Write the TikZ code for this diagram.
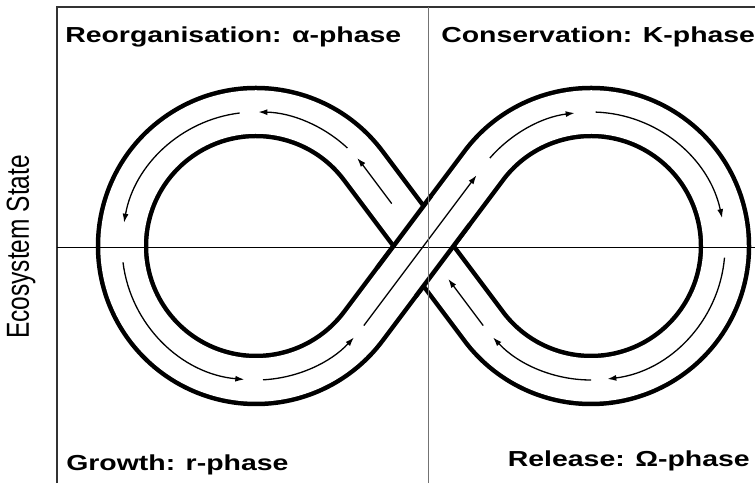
\documentclass[tikz,border=0pt]{standalone}
\usepackage{fontspec}
\setmainfont{Liberation Sans}
\usetikzlibrary{arrows.meta,calc}

\begin{document}
\begin{tikzpicture}[x=1pt,y=1pt,
  band/.style={draw=black, line width=4.5pt, double=white, double distance=43.5pt},
  edge/.style={line width=4.5pt},
  flow/.style={line width=1.3pt, -{Latex[length=9pt,width=6pt]}},
  phase/.style={font=\fontsize{21.7}{24}\selectfont\bfseries, inner sep=0pt, xscale=1.31}]
\useasboundingbox (0,0) rectangle (755,483);

% loop centres, crossing and tangent points
\coordinate (L) at (256,237);
\coordinate (R) at (591,237);
\coordinate (C) at (423.5,237);
\coordinate (Ltop) at (363.2,317.4);
\coordinate (Lbot) at (363.2,156.6);
\coordinate (Rtop) at (483.8,317.4);
\coordinate (Rbot) at (483.8,156.6);

% the figure of eight band
\draw[band] (C) -- (Rtop) arc[start angle=143.13, end angle=-143.13, radius=134]
  -- (Ltop) arc[start angle=36.87, end angle=323.13, radius=134] -- (C);
% rising part passes over the falling one
\coordinate (Ca) at ($(C)!0.45!(Lbot)$);
\coordinate (Cb) at ($(C)!0.45!(Rtop)$);
\draw[white, line width=44pt] (Ca) -- (Cb);
\draw[edge] ($(Ca)+(-19.2,14.4)$) -- ($(Cb)+(-19.2,14.4)$);
\draw[edge] ($(Ca)+(19.2,-14.4)$) -- ($(Cb)+(19.2,-14.4)$);

% flow arrows, left loop
\draw[flow] ($(C)!0.527!(Ltop)$) -- (Ltop) arc[start angle=36.87, end angle=41, radius=134];
\draw[flow] ($(L)+(47:134)$) arc[start angle=47, end angle=89, radius=134];
\draw[flow] ($(L)+(97:134)$) arc[start angle=97, end angle=170, radius=134];
\draw[flow] ($(L)+(187:134)$) arc[start angle=187, end angle=265, radius=134];
\draw[flow] ($(L)+(273:134)$) arc[start angle=273, end angle=317, radius=134];
\draw[flow] ($(Lbot)!0.005!(Rtop)$) -- ($(Lbot)!0.94!(Rtop)$);

% flow arrows, right loop
\draw[flow] ($(R)+(139:134)$) arc[start angle=139, end angle=97, radius=134];
\draw[flow] ($(R)+(88:134)$) arc[start angle=88, end angle=12, radius=134];
\draw[flow] ($(R)+(-5:134)$) arc[start angle=-5, end angle=-83, radius=134];
\draw[flow] ($(R)+(-90:134)$) arc[start angle=-90, end angle=-137, radius=134];
\draw[flow] ($(Rbot)!0.01!(C)$) -- ($(Rbot)!0.59!(C)$);

% frame and axes
\draw[line width=1.8pt, black!80] (57,0) -- (57,476) -- (755,476);
\draw[line width=0.8pt] (57,236) -- (755,236);
\draw[line width=0.7pt, black!55] (428,0) -- (428,476);

% phase labels
\node[phase, anchor=base west] (alpha) at (65,440) {Reorganisation: α-phase};
\node[phase, anchor=base west] (kphase) at (441,440) {Conservation: K-phase};
\node[phase, anchor=base west] (rphase) at (66,13) {Growth: r-phase};
\node[phase, anchor=base east] (omega) at (750,17) {Release: Ω-phase};
\node[font=\fontsize{24.5}{26}\selectfont, xscale=1.3, rotate=90] (state) at (21,236) {Ecosystem State};
\end{tikzpicture}
\end{document}
